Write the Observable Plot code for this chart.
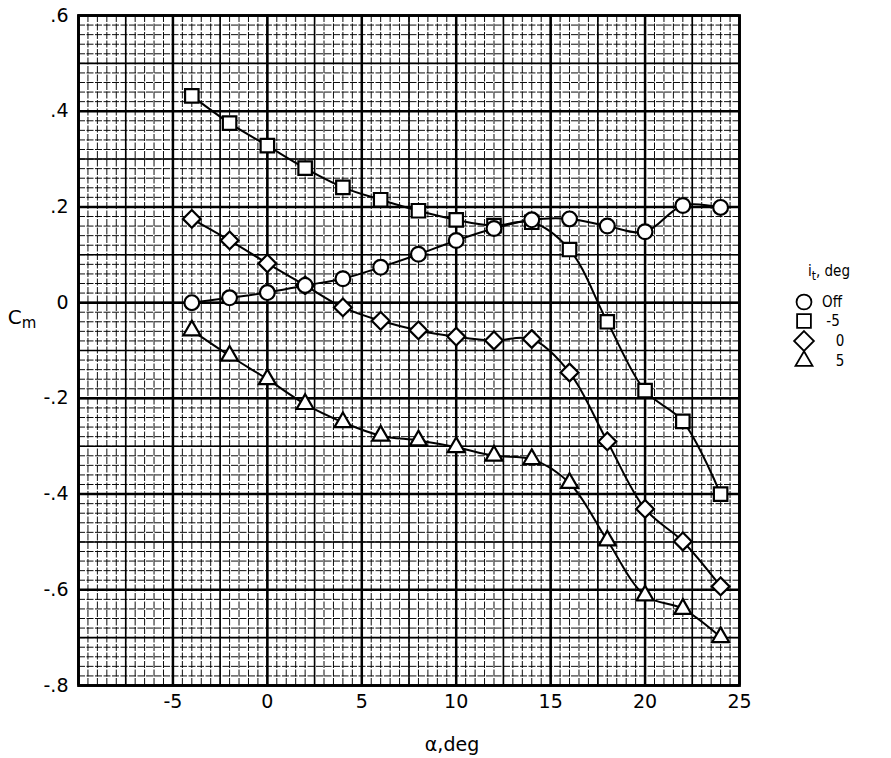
<!DOCTYPE html>
<html>
<head>
<meta charset="utf-8">
<script src="https://cdn.jsdelivr.net/npm/d3@7"></script>
<script src="https://cdn.jsdelivr.net/npm/@observablehq/plot@0.6"></script>
<style>
  html, body { margin: 0; padding: 0; background: #fff; }
  #chart svg { display: block; }
</style>
</head>
<body>
<div id="chart"></div>
<script>
// ---- data ----
const alpha = [-4, -2, 0, 2, 4, 6, 8, 10, 12, 14, 16, 18, 20, 22, 24];
const cmOff   = [0.000, 0.010, 0.021, 0.036, 0.050, 0.074, 0.101, 0.130, 0.155, 0.173, 0.175, 0.160, 0.148, 0.203, 0.199];
const cmMinus5 = [0.432, 0.375, 0.328, 0.281, 0.241, 0.215, 0.192, 0.173, 0.161, 0.168, 0.111, -0.040, -0.184, -0.248, -0.400];
const cmZero  = [0.175, 0.130, 0.082, 0.036, -0.010, -0.038, -0.058, -0.071, -0.079, -0.076, -0.146, -0.290, -0.431, -0.499, -0.593];
const cmPlus5 = [-0.058, -0.111, -0.160, -0.212, -0.250, -0.278, -0.288, -0.302, -0.320, -0.327, -0.377, -0.497, -0.612, -0.640, -0.699];

const seriesNames = ["Off", "-5", "0", "5"];
const seriesSymbols = ["circle", "square", "diamond2", "triangle"];
const seriesValues = [cmOff, cmMinus5, cmZero, cmPlus5];

const xTickValues = [-5, 0, 5, 10, 15, 20, 25];
const xTickLabels = ["-5", "0", "5", "10", "15", "20", "25"];
const yTickValues = [0.6, 0.4, 0.2, 0, -0.2, -0.4, -0.6, -0.8];
const yTickLabels = [".6", ".4", ".2", "0", "-.2", "-.4", "-.6", "-.8"];

const legendTitle = "i";
const legendTitleSub = "t";
const legendTitleRest = ", deg";
const xLabel = "α,deg";
const yLabelMain = "C";
const yLabelSub = "m";

// ---- table built from arrays ----
const rows = [];
seriesNames.forEach((s, i) => {
  alpha.forEach((a, j) => rows.push({ series: s, alpha: a, cm: seriesValues[i][j] }));
});

// marker radii per symbol (style)
const markerR = { "Off": 7.4, "-5": 7.6, "0": 8.0, "5": 6.3 };

// grid positions (graph paper)
const minorX = d3.range(-20, 51).map(i => i * 0.5);
const midX = d3.range(-4, 11).map(i => i * 2.5);
const majorX = d3.range(-2, 6).map(i => i * 5);
const minorY = d3.range(-40, 31).map(i => i * 0.02);
const midY = d3.range(-8, 7).map(i => i * 0.1);
const majorY = d3.range(-4, 4).map(i => i * 0.2);

const fontMain = "'DejaVu Sans', 'Noto Sans', sans-serif";

const plot = Plot.plot({
  width: 891,
  height: 758,
  marginLeft: 78,
  marginRight: 152,
  marginTop: 15,
  marginBottom: 73,
  x: { domain: [-10, 25], label: null },
  y: { domain: [-0.8, 0.6], label: null },
  r: { type: "identity" },
  symbol: { domain: seriesNames, range: seriesSymbols },
  style: { fontFamily: fontMain, background: "#fff", color: "#000" },
  marks: [
    Plot.ruleX(minorX, { stroke: "#000", strokeWidth: 1, strokeOpacity: 0.95, strokeDasharray: "7,1.5" }),
    Plot.ruleY(minorY, { stroke: "#000", strokeWidth: 1, strokeOpacity: 0.95, strokeDasharray: "7,1.5" }),
    Plot.ruleX(midX, { stroke: "#000", strokeWidth: 1.6 }),
    Plot.ruleY(midY, { stroke: "#000", strokeWidth: 1.6 }),
    Plot.ruleX(majorX, { stroke: "#000", strokeWidth: 2.5 }),
    Plot.ruleY(majorY, { stroke: "#000", strokeWidth: 2.5 }),
    Plot.frame({ stroke: "#000", strokeWidth: 2.8 }),
    Plot.line(rows, { x: "alpha", y: "cm", z: "series", curve: "catmull-rom", stroke: "#000", strokeWidth: 2 }),
    Plot.dot(rows, { x: "alpha", y: "cm", symbol: "series", r: d => markerR[d.series], fill: "#fff", stroke: "#000", strokeWidth: 2.2 }),
    Plot.axisX(xTickValues, {
      tickSize: 0, tickPadding: 9, fontSize: 19, label: null,
      tickFormat: d => xTickLabels[xTickValues.indexOf(d)]
    }),
    Plot.axisY(yTickValues, {
      tickSize: 0, tickPadding: 10, fontSize: 19, label: null,
      tickFormat: d => yTickLabels[yTickValues.indexOf(d)]
    })
  ]
});

document.getElementById("chart").appendChild(plot);

// ---- annotations: axis titles and legend ----
const svg = d3.select(plot);

// x-axis title
svg.append("text")
  .attr("x", 452).attr("y", 751)
  .attr("text-anchor", "middle")
  .attr("font-family", fontMain).attr("font-size", 19).attr("fill", "#000")
  .text(xLabel);

// y-axis title  C_m
const yl = svg.append("text")
  .attr("x", 22).attr("y", 324)
  .attr("font-family", fontMain).attr("font-size", 20).attr("fill", "#000");
yl.append("tspan").text(yLabelMain);
yl.append("tspan").attr("font-size", 15).attr("dy", 4).text(yLabelSub);

// legend
const legendFont = "'DejaVu Sans Condensed', 'Liberation Sans Narrow', 'DejaVu Sans', sans-serif";
const lt = svg.append("text")
  .attr("x", 829).attr("y", 276)
  .attr("font-family", legendFont).attr("font-size", 15).attr("fill", "#000");
lt.append("tspan").text(legendTitle);
lt.append("tspan").attr("font-size", 12).attr("dy", 4).text(legendTitleSub);
lt.append("tspan").attr("dy", -4).text(legendTitleRest);

const legendSymbolMap = {
  circle: d3.symbolCircle, square: d3.symbolSquare,
  diamond2: d3.symbolDiamond2, triangle: d3.symbolTriangle
};
const legendSymbolSize = { circle: 175, square: 190, diamond2: 250, triangle: 125 };
const legendY = [302, 321, 341, 361];
const legendLabelX = [832, 833, 840, 840];
seriesNames.forEach((name, i) => {
  const sym = seriesSymbols[i];
  svg.append("path")
    .attr("transform", `translate(804,${legendY[i]})`)
    .attr("d", d3.symbol(legendSymbolMap[sym], legendSymbolSize[sym])())
    .attr("fill", "none").attr("stroke", "#000").attr("stroke-width", 1.8);
  svg.append("text")
    .attr("x", legendLabelX[i]).attr("y", legendY[i] + 5)
    .attr("font-family", legendFont).attr("font-size", 15).attr("fill", "#000")
    .text(name);
});
</script>
</body>
</html>
